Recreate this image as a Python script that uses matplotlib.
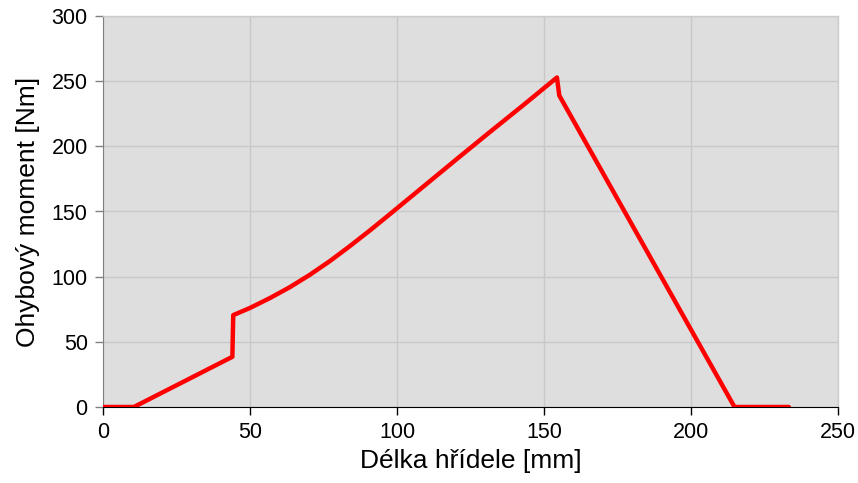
import matplotlib
matplotlib.use("Agg")
import matplotlib.pyplot as plt

# Bending moment along the shaft
delka = [0, 10.5, 44.0, 44.3, 50.0, 56.8, 63.6, 70.4, 77.2, 84.0, 90.8, 97.6,
         108.9, 120.2, 131.6, 142.9, 154.4, 155.2, 214.8, 233.3]
moment = [0, 0, 38.5, 70.5, 76.0, 83.6, 92.0, 101.5, 112.0, 123.5, 135.5, 148.0,
          169.0, 190.0, 211.0, 231.5, 252.8, 239.0, 0, 0]

x_ticks = [0, 50, 100, 150, 200, 250]
y_ticks = [0, 50, 100, 150, 200, 250, 300]

plt.rcParams["font.family"] = ["Liberation Sans", "DejaVu Sans"]

fig = plt.figure(figsize=(8.58, 4.83), dpi=100)
ax = fig.add_axes([103 / 858, 1 - 407 / 483, (838 - 103) / 858, (407 - 16) / 483])

ax.set_facecolor("#DEDEDE")
ax.grid(True, color="#C8C8C8", linewidth=1.0)
ax.set_axisbelow(True)

ax.plot(delka, moment, color="#FF0000", linewidth=3.2, solid_joinstyle="round",
        solid_capstyle="round", zorder=3)

ax.set_xlim(0, 250)
ax.set_ylim(0, 300)
ax.set_xticks(x_ticks)
ax.set_yticks(y_ticks)
ax.tick_params(axis="both", labelsize=15.5, direction="out", length=6, width=1)
ax.tick_params(axis="x", colors="black", pad=5)
ax.tick_params(axis="y", colors="#808080", labelcolor="black", pad=5)

for side in ("top", "right"):
    ax.spines[side].set_color("#CCCCCC")
    ax.spines[side].set_linewidth(1.0)
ax.spines["left"].set_color("#808080")
ax.spines["bottom"].set_color("black")

ax.set_xlabel("Délka hřídele [mm]", fontsize=19, labelpad=4)
ax.set_ylabel("Ohybový moment [Nm]", fontsize=19, labelpad=8)

fig.savefig("out.png", dpi=100)
